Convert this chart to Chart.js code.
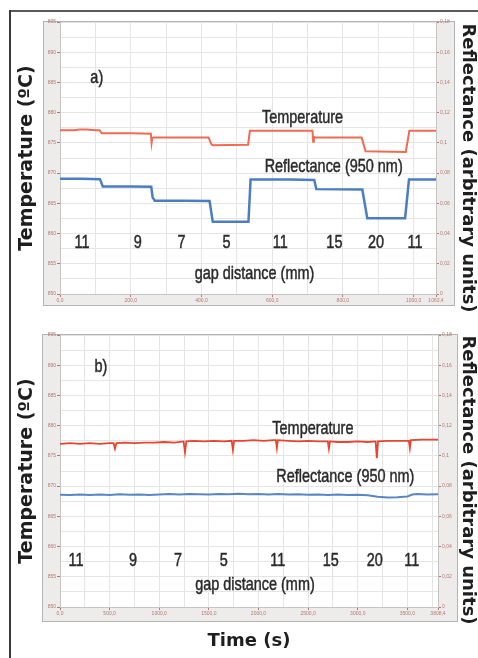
<!DOCTYPE html>
<html lang="en">
<head>
<meta charset="UTF-8">
<title>Temperature and reflectance vs time</title>
<script src="https://cdn.jsdelivr.net/npm/chart.js@4.4.0/dist/chart.umd.min.js"></script>
<style>
  html, body { margin: 0; padding: 0; background: #fff; }
  body { width: 478px; height: 658px; position: relative; overflow: hidden; }
  canvas { position: absolute; left: 0; }
  #chartA { top: 0; }
  #chartB { top: 320px; }
  .frame-top { position: absolute; left: 10px; top: 10px; width: 468px; height: 2px; background: #5a5a5a; }
  .frame-left { position: absolute; left: 9px; top: 10px; width: 2px; height: 648px; background: #3a3a3a; }
</style>
</head>
<body>
<canvas id="chartA" width="478" height="320"></canvas>
<canvas id="chartB" width="478" height="338"></canvas>
<div class="frame-top"></div>
<div class="frame-left"></div>
<script>
// ---- panel a) : steps while the gap is changed ----
const tempATime = [0, 40, 55, 75, 100, 112, 118, 200, 257, 259, 261, 264, 330, 420, 428, 432, 532, 537, 600, 714, 716, 718, 721, 853, 864, 978, 988, 1063.4];
const tempAVal  = [877.1, 877.1, 877.2, 877.2, 877.1, 877.1, 876.6, 876.6, 876.5, 875.0, 875.8, 875.9, 875.9, 875.9, 874.8, 874.6, 874.7, 877.0, 877.0, 877.0, 875.2, 876.0, 875.9, 875.9, 873.6, 873.5, 877.0, 877.0];
const reflATime = [0, 60, 113, 121, 200, 258, 262, 268, 350, 423, 432, 533, 539, 650, 719, 725, 855, 869, 976, 987, 1063.4];
const reflAVal  = [0.0762, 0.0762, 0.0760, 0.0712, 0.0712, 0.0710, 0.0640, 0.0617, 0.0617, 0.0615, 0.0478, 0.0478, 0.0757, 0.0757, 0.0755, 0.0694, 0.0692, 0.0502, 0.0502, 0.0757, 0.0757];

// ---- panel b) ----
const tempBTime = [0, 100, 200, 300, 400, 500, 540, 554, 568, 650, 750, 850, 950, 1050, 1150, 1245, 1259, 1273,
                   1350, 1450, 1550, 1650, 1730, 1742, 1754, 1850, 1950, 2050, 2150, 2175, 2185, 2195,
                   2300, 2400, 2500, 2600, 2698, 2709, 2720, 2800, 2900, 3000, 3100, 3180, 3192, 3204,
                   3300, 3400, 3515, 3525, 3535, 3650, 3750, 3808.4];
const tempBVal  = [877.0, 877.1, 877.0, 877.1, 877.0, 877.1, 877.1, 876.2, 877.1, 877.2, 877.1, 877.2, 877.2, 877.3, 877.2, 877.4, 875.6, 877.4,
                   877.5, 877.4, 877.5, 877.4, 877.5, 876.0, 877.5, 877.5, 877.6, 877.5, 877.6, 877.6, 876.3, 877.6,
                   877.5, 877.4, 877.5, 877.4, 877.4, 876.2, 877.4, 877.3, 877.3, 877.4, 877.3, 877.4, 874.6, 877.4,
                   877.5, 877.5, 877.5, 876.3, 877.6, 877.7, 877.7, 877.7];
const reflBTime = [0, 100, 200, 300, 400, 500, 600, 700, 800, 900, 1000, 1100, 1200, 1300, 1400, 1500, 1600, 1700, 1800, 1900,
                   2000, 2100, 2200, 2300, 2400, 2500, 2600, 2700, 2800, 2900, 3000, 3100, 3200, 3300, 3400, 3500, 3550, 3600, 3700, 3808.4];
const reflBVal  = [0.0743, 0.0741, 0.0745, 0.0742, 0.0744, 0.0741, 0.0746, 0.0743, 0.0745, 0.0742,
                   0.0744, 0.0747, 0.0745, 0.0748, 0.0746, 0.0744, 0.0747, 0.0746, 0.0749, 0.0746,
                   0.0748, 0.0745, 0.0747, 0.0744, 0.0746, 0.0743, 0.0745, 0.0742, 0.0744, 0.0741,
                   0.0743, 0.0740, 0.0729, 0.0725, 0.0727, 0.0731, 0.0744, 0.0747, 0.0745, 0.0746];

// ---- ticks ----
const tempTicks = [850, 852.5, 855, 857.5, 860, 862.5, 865, 867.5, 870, 872.5, 875, 877.5, 880, 882.5, 885, 887.5, 890, 892.5, 895];
const reflTicks = [0, 0.01, 0.02, 0.03, 0.04, 0.05, 0.06, 0.07, 0.08, 0.09, 0.1, 0.11, 0.12, 0.13, 0.14, 0.15, 0.16, 0.17, 0.18];
const timeTicksA = [0, 100, 200, 300, 400, 500, 600, 700, 800, 900, 1000, 1063.4];
const timeTicksB = [0, 250, 500, 750, 1000, 1250, 1500, 1750, 2000, 2250, 2500, 2750, 3000, 3250, 3500, 3750, 3808.4];

// ---- labels written on the plots ----
const gapLabels = ['11', '9', '7', '5', '11', '15', '20', '11'];
const gapTimeA  = [62, 220, 344, 471, 623, 776, 894, 1004];
const gapTimeB  = [161, 735, 1188, 1651, 2195, 2729, 3172, 3545];

const tickCol = '#b07a6e';
const gridCol = '#e5e5e5';

function toPoints(xs, ys) {
  return xs.map((x, i) => ({ x: x, y: ys[i] }));
}
function comma(v, digits) {
  return (digits === undefined ? String(v) : v.toFixed(digits)).replace('.', ',');
}

// gray frame around the plot with the small tick labels
const boxPlugin = {
  id: 'box',
  beforeDraw(chart, args, o) {
    const c = chart.ctx, a = chart.chartArea;
    c.save();
    c.fillStyle = '#eeebeb';
    c.fillRect(o.left, a.top - 1, o.right - o.left, o.bottom - a.top + 1);
    c.strokeStyle = '#b3b3b3';
    c.lineWidth = 1;
    c.strokeRect(o.left + 0.5, a.top - 0.5, o.right - o.left - 1, o.bottom - a.top);
    c.fillStyle = '#fff';
    c.fillRect(a.left, a.top, a.width, a.height);
    c.restore();
  }
};

// condensed annotation text + right axis title
const notesPlugin = {
  id: 'notes',
  afterDatasetsDraw(chart, args, o) {
    const c = chart.ctx, sx = chart.scales.x, sy = chart.scales.y;
    o.items.forEach(it => {
      c.save();
      c.translate(sx.getPixelForValue(it.t), sy.getPixelForValue(it.v));
      c.scale(0.76, 1);
      c.font = '19px "Liberation Sans", Arial, sans-serif';
      c.textAlign = 'center';
      c.textBaseline = 'middle';
      c.fillStyle = '#2a2a2a';
      c.strokeStyle = '#2a2a2a';
      c.lineWidth = 0.5;
      c.fillText(it.text, 0, 0);
      c.strokeText(it.text, 0, 0);
      c.restore();
    });
    c.save();
    c.translate(468, o.rightTitleY);
    c.rotate(Math.PI / 2);
    c.font = 'bold 18px "DejaVu Sans", sans-serif';
    c.textAlign = 'center';
    c.textBaseline = 'middle';
    c.fillStyle = '#1e1e1e';
    c.fillText('Reflectance (arbitrary units)', 0, 0);
    c.restore();
  }
};

function makePanel(id, p) {
  const notes = gapLabels.map((g, i) => ({ text: g, t: p.gapTime[i], v: p.gapY }))
    .concat(p.extra);
  const tickFont = { family: 'Liberation Sans', size: 5 };
  return new Chart(document.getElementById(id).getContext('2d'), {
    type: 'line',
    data: {
      datasets: [{
        label: 'Temperature',
        data: toPoints(p.tempTime, p.tempVal),
        yAxisID: 'y',
        borderColor: p.red,
        borderWidth: p.redW,
        pointRadius: 0,
        tension: 0
      }, {
        label: 'Reflectance (950 nm)',
        data: toPoints(p.reflTime, p.reflVal),
        yAxisID: 'y1',
        borderColor: p.blue,
        borderWidth: p.blueW,
        pointRadius: 0,
        tension: 0
      }]
    },
    options: {
      responsive: false,
      animation: false,
      devicePixelRatio: 1,
      layout: { padding: { top: p.padTop, left: 0, right: 0, bottom: 0 } },
      plugins: {
        legend: { display: false },
        tooltip: { enabled: false },
        box: p.box,
        notes: { items: notes, rightTitleY: p.rightTitleY }
      },
      scales: {
        x: {
          type: 'linear',
          min: 0,
          max: p.xMax,
          afterFit(s) { s.height = p.xHeight; },
          afterBuildTicks(s) { s.ticks = p.xTicks.map(v => ({ value: v })); },
          ticks: {
            autoSkip: false, maxRotation: 0, font: tickFont, color: tickCol, padding: 1,
            callback: v => (v === p.xMax || v % p.xStep === 0) ? comma(v, 1) : ''
          },
          grid: {
            color: gridCol, tickLength: 3,
            tickColor: ctx => (ctx.tick && (ctx.tick.value === p.xMax || ctx.tick.value % p.xStep === 0)) ? tickCol : 'rgba(0,0,0,0)'
          },
          border: { color: '#c4c4c4' },
          title: {
            display: p.xTitle,
            text: 'Time (s)',
            color: '#1e1e1e',
            font: { family: 'DejaVu Sans', weight: 'bold', size: 18 },
            padding: { top: 0, bottom: 6 }
          }
        },
        y: {
          position: 'left',
          min: 850,
          max: 895,
          afterFit(s) { s.width = 60; },
          afterBuildTicks(s) { s.ticks = tempTicks.map(v => ({ value: v })); },
          ticks: {
            font: tickFont, color: tickCol, padding: 1,
            callback: v => v % 5 === 0 ? String(v) : ''
          },
          grid: {
            color: gridCol, tickLength: 3,
            tickColor: ctx => (ctx.tick && ctx.tick.value % 5 === 0) ? tickCol : 'rgba(0,0,0,0)'
          },
          border: { color: '#c4c4c4' },
          title: {
            display: true,
            text: 'Temperature (ºC)',
            color: '#1e1e1e',
            font: { family: 'DejaVu Sans', weight: 'bold', size: 19 },
            padding: { top: 16, bottom: 0 }
          }
        },
        y1: {
          position: 'right',
          min: 0,
          max: 0.18,
          afterFit(s) { s.width = p.rightW; },
          afterBuildTicks(s) { s.ticks = reflTicks.map(v => ({ value: v })); },
          ticks: {
            font: tickFont, color: tickCol, padding: 1,
            callback: v => Math.round(v * 100) % 2 === 0 ? comma(Math.round(v * 100) / 100) : ''
          },
          grid: {
            drawOnChartArea: false, tickLength: 3,
            tickColor: ctx => (ctx.tick && Math.round(ctx.tick.value * 100) % 2 === 0) ? tickCol : 'rgba(0,0,0,0)'
          },
          border: { color: '#c4c4c4' }
        }
      }
    },
    plugins: [boxPlugin, notesPlugin]
  });
}

makePanel('chartA', {
  tempTime: tempATime, tempVal: tempAVal, reflTime: reflATime, reflVal: reflAVal,
  red: '#f06b52', blue: '#4c7dc3', redW: 2, blueW: 2.5,
  xMax: 1063.4, xTicks: timeTicksA, xStep: 200, xHeight: 26, xTitle: false,
  padTop: 22, rightW: 42,
  box: { left: 43, right: 455, bottom: 306 },
  rightTitleY: 168,
  gapTime: gapTimeA, gapY: 858.4,
  extra: [
    { text: 'a)', t: 104, v: 885.8 },
    { text: 'Temperature', t: 686, v: 879.1 },
    { text: 'Reflectance (950 nm)', t: 774, v: 871.0 },
    { text: 'gap distance (mm)', t: 550, v: 853.4 }
  ]
});

makePanel('chartB', {
  tempTime: tempBTime, tempVal: tempBVal, reflTime: reflBTime, reflVal: reflBVal,
  red: '#e8442f', blue: '#5a86c4', redW: 1.8, blueW: 2,
  xMax: 3808.4, xTicks: timeTicksB, xStep: 500, xHeight: 51, xTitle: true,
  padTop: 15, rightW: 40,
  box: { left: 42, right: 458, bottom: 302 },
  rightTitleY: 160,
  gapTime: gapTimeB, gapY: 857.7,
  extra: [
    { text: 'b)', t: 413, v: 889.7 },
    { text: 'Temperature', t: 2548, v: 879.5 },
    { text: 'Reflectance (950 nm)', t: 2875, v: 871.6 },
    { text: 'gap distance (mm)', t: 1964, v: 853.6 }
  ]
});
</script>
</body>
</html>
